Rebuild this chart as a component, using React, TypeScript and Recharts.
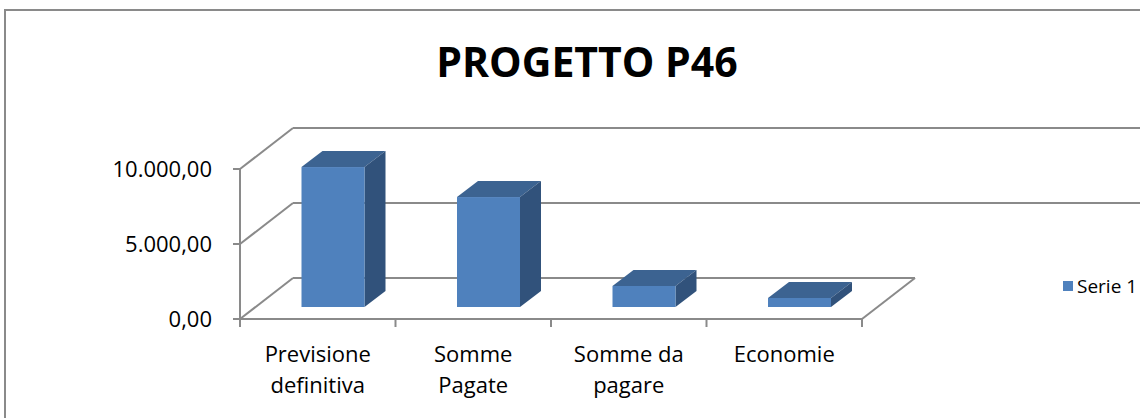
import { BarChart, Bar, XAxis, YAxis, CartesianGrid } from 'recharts';

const categories = ['Previsione\ndefinitiva', 'Somme\nPagate', 'Somme da\npagare', 'Economie'];
const serie1 = [9330, 7330, 1400, 600];
const yTicks = [0, 5000, 10000];

const data = categories.map((name, i) => ({ name, value: serie1[i] }));

const WIDTH = 1140;
const HEIGHT = 418;
const GRID = '#8a8a8a';
const FONT = '"Open Sans", sans-serif';

// perspective of the walls and of the bars
const WALL_DX = 53;
const WALL_DY = -41;
const BAR_SHIFT_X = 15.5;
const BAR_SHIFT_Y = -12;
const BAR_DX = 21;
const BAR_DY = -16;

const FRONT = '#4f81bd';
const TOP = '#3c6391';
const SIDE = '#31527b';

const fmt = (v: number) =>
  v.toLocaleString('it-IT', { minimumFractionDigits: 2, maximumFractionDigits: 2 });

function Bar3D(props: any) {
  const { x, y, width, height } = props;
  if (height == null || width == null) return null;
  const fx = x + BAR_SHIFT_X;
  const fy = y + BAR_SHIFT_Y;
  const r = fx + width;
  const b = fy + height;
  return (
    <g>
      <polygon
        points={`${fx},${fy} ${fx + BAR_DX},${fy + BAR_DY} ${r + BAR_DX},${fy + BAR_DY} ${r},${fy}`}
        fill={TOP}
      />
      <polygon
        points={`${r},${fy} ${r + BAR_DX},${fy + BAR_DY} ${r + BAR_DX},${b + BAR_DY} ${r},${b}`}
        fill={SIDE}
      />
      <rect x={fx} y={fy} width={width} height={height} fill={FRONT} />
    </g>
  );
}

function WallLine(props: any) {
  const { x1, x2, y1, index, points } = props;
  const y = y1;
  const isFloor = points ? y === Math.max(...points) : index === 0;
  const bx = x1 + WALL_DX;
  const by = y + WALL_DY;
  const n = categories.length;
  return (
    <g key={`wall-${index}`}>
      <line x1={x1} y1={y} x2={bx} y2={by} stroke={GRID} strokeWidth={2} />
      <line x1={bx} y1={by} x2={isFloor ? x2 + WALL_DX : WIDTH} y2={by} stroke={GRID} strokeWidth={2} />
      {isFloor && (
        <g>
          <line x1={x2} y1={y} x2={x2 + WALL_DX} y2={by} stroke={GRID} strokeWidth={2} />
          {Array.from({ length: n + 1 }).map((_, i) => {
            const tx = x1 + ((x2 - x1) * i) / n;
            return <line key={i} x1={tx} y1={y} x2={tx} y2={y + 8} stroke={GRID} strokeWidth={2} />;
          })}
        </g>
      )}
    </g>
  );
}

function CategoryTick(props: any) {
  const { x, y, payload } = props;
  const lines = String(payload.value).split('\n');
  return (
    <text x={x} y={y} textAnchor="middle" fill="#000" fontSize={22} fontFamily={FONT}>
      {lines.map((l, i) => (
        <tspan key={i} x={x} dy={i === 0 ? 43 : 31}>
          {l}
        </tspan>
      ))}
    </text>
  );
}

export default function App() {
  return (
    <div style={{ position: 'absolute', left: 0, top: 0, width: WIDTH, height: HEIGHT, background: '#fff', overflow: 'hidden' }}>
      <div
        style={{
          position: 'absolute',
          left: 4,
          top: 9,
          width: WIDTH + 20,
          height: HEIGHT + 20,
          border: `2px solid ${GRID}`,
          boxSizing: 'border-box',
        }}
      />
      <svg width={WIDTH} height={HEIGHT} style={{ position: 'absolute', left: 0, top: 0 }}>
        <text x={587} y={77} textAnchor="middle" fontFamily={FONT} fontWeight="bold" fontSize={41} fill="#000">
          PROGETTO P46
        </text>
        <rect x={1063} y={281} width={10} height={10} fill={FRONT} />
        <text x={1077} y={293} fontFamily={FONT} fontSize={19} fill="#000">
          Serie 1
        </text>
      </svg>
      <div style={{ position: 'absolute', left: 0, top: 0 }}>
        <BarChart
          width={WIDTH}
          height={HEIGHT}
          data={data}
          margin={{ top: 169, right: 278, bottom: 39, left: 140 }}
          barSize={63}
        >
          <CartesianGrid horizontal={WallLine} vertical={false} />
          <XAxis
            dataKey="name"
            height={60}
            axisLine={{ stroke: GRID, strokeWidth: 2 }}
            tickLine={false}
            tickSize={0}
            tickMargin={0}
            tick={CategoryTick}
            interval={0}
          />
          <YAxis
            width={100}
            domain={[0, 10000]}
            ticks={yTicks}
            tickFormatter={fmt}
            axisLine={{ stroke: GRID, strokeWidth: 2 }}
            tickLine={{ stroke: GRID, strokeWidth: 2 }}
            tickSize={7}
            tickMargin={21}
            tick={{ fill: '#000', fontSize: 22, fontFamily: FONT }}
          />
          <Bar dataKey="value" name="Serie 1" shape={Bar3D} isAnimationActive={false} />
        </BarChart>
      </div>
    </div>
  );
}
